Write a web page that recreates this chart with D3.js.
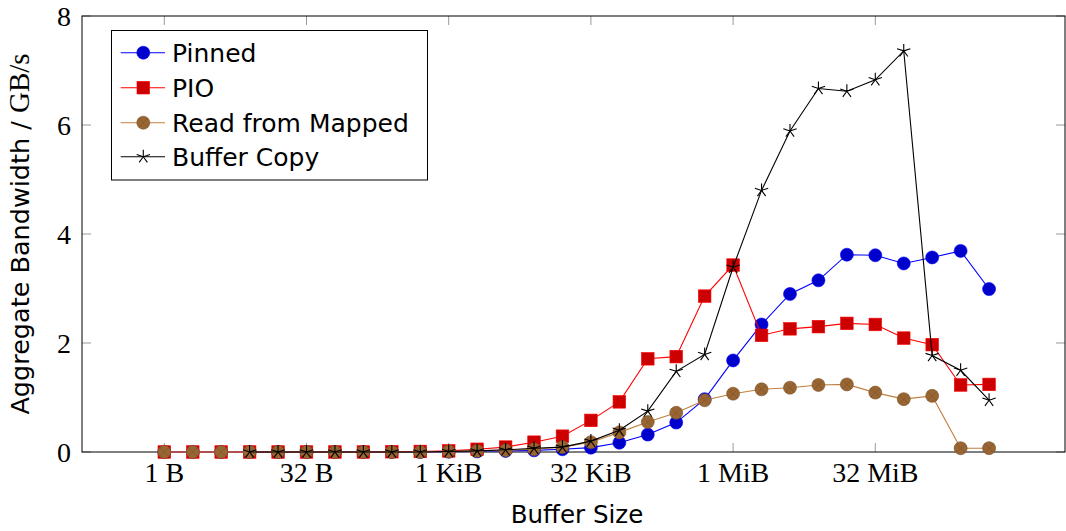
<!DOCTYPE html>
<html>
<head>
<meta charset="utf-8">
<script src="https://cdn.jsdelivr.net/npm/d3@7"></script>
<style>
  body { margin: 0; background: #fff; }
  svg { display: block; }
</style>
</head>
<body>
<div id="chart"></div>
<script>
// Buffer size exponent (2^i bytes)
var sizeExp = d3.range(0, 30);
var tickExp = [0, 5, 10, 15, 20, 25];
var tickLabels = ["1 B", "32 B", "1 KiB", "32 KiB", "1 MiB", "32 MiB"];
var yTicks = [0, 2, 4, 6, 8];

var pinned = [0, 0, 0, 0, 0, 0, 0, 0, 0, 0, 0.005, 0.01, 0.02, 0.03, 0.05, 0.08, 0.17, 0.32, 0.54, 0.97, 1.68, 2.34, 2.90, 3.15, 3.62, 3.61, 3.46, 3.57, 3.69, 2.99];
var pio = [0, 0, 0, 0, 0, 0, 0, 0, 0.005, 0.01, 0.02, 0.05, 0.09, 0.18, 0.29, 0.58, 0.92, 1.71, 1.75, 2.86, 3.43, 2.14, 2.26, 2.30, 2.36, 2.34, 2.09, 1.97, 1.23, 1.24];
var mapped = [0, 0, 0, 0, 0, 0, 0, 0, 0, 0, 0.01, 0.02, 0.03, 0.05, 0.09, 0.18, 0.36, 0.55, 0.72, 0.95, 1.07, 1.15, 1.18, 1.23, 1.24, 1.09, 0.97, 1.03, 0.07, 0.07];
var bufCopy = [null, null, null, 0, 0, 0, 0, 0, 0, 0, 0.01, 0.02, 0.04, 0.07, 0.09, 0.20, 0.40, 0.75, 1.48, 1.79, 3.39, 4.80, 5.89, 6.67, 6.62, 6.83, 7.36, 1.77, 1.50, 0.95];

var seriesNames = ["Pinned", "PIO", "Read from Mapped", "Buffer Copy"];

var width = 1066, height = 531;
var margin = { left: 82, right: 1, top: 16, bottom: 79 };

var svg = d3.select("#chart").append("svg")
    .attr("width", width)
    .attr("height", height);

var x = d3.scaleLinear().domain([-2.894, 31.67]).range([margin.left, width - margin.right]);
var y = d3.scaleLinear().domain([0, 8]).range([height - margin.bottom, margin.top]);

var series = [
    { name: seriesNames[0], values: pinned, line: "#0000ff", fill: "#0000cc", mark: "circle" },
    { name: seriesNames[1], values: pio, line: "#ff0000", fill: "#cc0000", mark: "square" },
    { name: seriesNames[2], values: mapped, line: "#bf8040", fill: "#996633", mark: "otimes" },
    { name: seriesNames[3], values: bufCopy, line: "#000000", fill: "#000000", mark: "star" }
];

var x0 = margin.left, x1 = width - margin.right;
var y0 = height - margin.bottom, y1 = margin.top;

// ticks (inside, top and bottom / left and right)
var tickLen = 9;
var g = svg.append("g");
tickExp.forEach(function(e) {
    g.append("line").attr("x1", x(e)).attr("x2", x(e)).attr("y1", y0).attr("y2", y0 - tickLen)
        .attr("stroke", "#999").attr("stroke-width", 1);
    g.append("line").attr("x1", x(e)).attr("x2", x(e)).attr("y1", y1).attr("y2", y1 + tickLen)
        .attr("stroke", "#999").attr("stroke-width", 1);
});
yTicks.forEach(function(t) {
    g.append("line").attr("x1", x0).attr("x2", x0 + tickLen).attr("y1", y(t)).attr("y2", y(t))
        .attr("stroke", "#999").attr("stroke-width", 1);
    g.append("line").attr("x1", x1).attr("x2", x1 - tickLen).attr("y1", y(t)).attr("y2", y(t))
        .attr("stroke", "#999").attr("stroke-width", 1);
});

// frame
svg.append("rect")
    .attr("x", x0).attr("y", y1)
    .attr("width", x1 - x0).attr("height", y0 - y1)
    .attr("fill", "none").attr("stroke", "#000").attr("stroke-width", 1);

// tick labels
svg.selectAll(".xl").data(tickExp).enter().append("text")
    .attr("x", function(d) { return x(d); })
    .attr("y", y0 + 30)
    .attr("text-anchor", "middle")
    .style("font-family", "'Liberation Serif', serif")
    .style("font-size", "28px")
    .text(function(d, i) { return tickLabels[i]; });

svg.selectAll(".yl").data(yTicks).enter().append("text")
    .attr("x", x0 - 11)
    .attr("y", function(d) { return y(d) + 9.5; })
    .attr("text-anchor", "end")
    .style("font-family", "'Liberation Serif', serif")
    .style("font-size", "28px")
    .text(function(d) { return d; });

// axis titles
svg.append("text")
    .attr("x", 577).attr("y", 523)
    .attr("text-anchor", "middle")
    .style("font-family", "'DejaVu Sans', sans-serif")
    .style("font-size", "24.5px")
    .text("Buffer Size");

var yt = svg.append("text")
    .attr("transform", "translate(29,234) rotate(-90)")
    .attr("text-anchor", "middle")
    .style("font-family", "'DejaVu Sans', sans-serif")
    .style("font-size", "25.5px");
yt.append("tspan").text("Aggregate Bandwidth / ");
yt.append("tspan").style("font-family", "'Liberation Serif', serif").style("font-size", "29px").text("GB/s");

// markers
function drawMark(sel, s, cx, cy) {
    if (s.mark == "circle") {
        sel.append("circle").attr("cx", cx).attr("cy", cy).attr("r", 6.5)
            .attr("fill", s.fill).attr("stroke", s.line).attr("stroke-width", 0.6);
    } else if (s.mark == "square") {
        sel.append("rect").attr("x", cx - 6.3).attr("y", cy - 6.3).attr("width", 12.6).attr("height", 12.6)
            .attr("fill", s.fill).attr("stroke", s.line).attr("stroke-width", 0.6);
    } else if (s.mark == "otimes") {
        sel.append("circle").attr("cx", cx).attr("cy", cy).attr("r", 6.5)
            .attr("fill", s.fill).attr("stroke", "#7a5028").attr("stroke-width", 0.6);
        var d = 6.5 * Math.SQRT1_2;
        sel.append("path")
            .attr("d", "M" + (cx - d) + "," + (cy - d) + "L" + (cx + d) + "," + (cy + d) +
                "M" + (cx - d) + "," + (cy + d) + "L" + (cx + d) + "," + (cy - d))
            .attr("stroke", "#7a5028").attr("stroke-width", 0.6);
    } else {
        var p = "";
        for (var k = 0; k < 5; k++) {
            var a = -Math.PI / 2 + k * 2 * Math.PI / 5;
            p += "M" + cx + "," + cy + "L" + (cx + 7 * Math.cos(a)) + "," + (cy + 7 * Math.sin(a));
        }
        sel.append("path").attr("d", p).attr("stroke", "#000").attr("stroke-width", 1.1).attr("fill", "none");
    }
}

var line = d3.line()
    .defined(function(d) { return d != null; })
    .x(function(d, i) { return x(sizeExp[i]); })
    .y(function(d) { return y(d); });

var plot = svg.append("g");
series.forEach(function(s) {
    var sg = plot.append("g");
    sg.append("path")
        .datum(s.values)
        .attr("d", line)
        .attr("fill", "none")
        .attr("stroke", s.line)
        .attr("stroke-width", 1.1);
    s.values.forEach(function(v, i) {
        if (v == null) return;
        drawMark(sg, s, x(sizeExp[i]), y(v));
    });
});

// legend
var lg = svg.append("g");
lg.append("rect")
    .attr("x", 111.5).attr("y", 30.5).attr("width", 316).attr("height", 149.5)
    .attr("fill", "#fff").attr("stroke", "#000").attr("stroke-width", 1);
var legY = [52.7, 87.7, 122.7, 156.7];
series.forEach(function(s, i) {
    lg.append("line").attr("x1", 120.7).attr("x2", 165).attr("y1", legY[i]).attr("y2", legY[i])
        .attr("stroke", s.line).attr("stroke-width", 1.1);
    drawMark(lg, s, 143.3, legY[i]);
    lg.append("text")
        .attr("x", 172).attr("y", legY[i] + 9)
        .style("font-family", "'DejaVu Sans', sans-serif")
        .style("font-size", "25px")
        .text(s.name);
});
</script>
</body>
</html>
